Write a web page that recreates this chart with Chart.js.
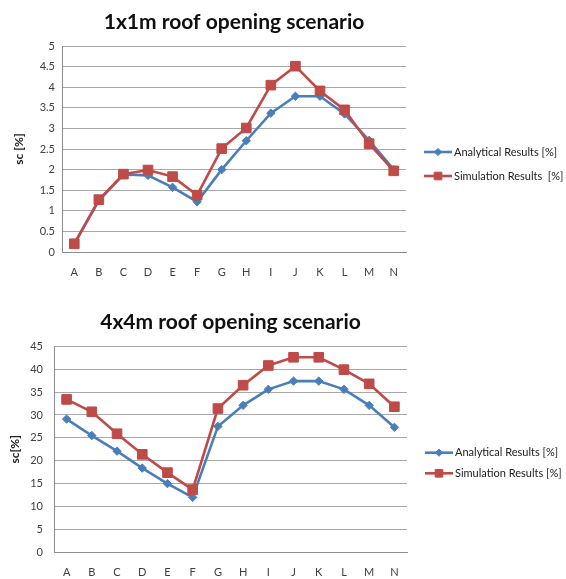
<!DOCTYPE html>
<html>
<head>
<meta charset="utf-8">
<script src="https://cdn.jsdelivr.net/npm/chart.js@4/dist/chart.umd.min.js"></script>
<style>
  html, body { margin: 0; padding: 0; background: #fff; }
  #wrap { position: relative; width: 566px; height: 579px; }
  canvas { position: absolute; left: 0; }
</style>
</head>
<body>
<div id="wrap">
  <canvas id="small" width="566" height="290" style="top:0"></canvas>
  <canvas id="large" width="566" height="289" style="top:290px"></canvas>
</div>
<script>
// Positions along the roof section
const categories = ['A', 'B', 'C', 'D', 'E', 'F', 'G', 'H', 'I', 'J', 'K', 'L', 'M', 'N'];

// 1x1m roof opening
const analytical1x1 = [0.2, 1.25, 1.88, 1.86, 1.57, 1.22, 2.0, 2.7, 3.37, 3.78, 3.78, 3.35, 2.71, 2.0];
const simulation1x1 = [0.2, 1.27, 1.89, 1.99, 1.83, 1.38, 2.51, 3.01, 4.05, 4.51, 3.91, 3.45, 2.63, 1.97];

// 4x4m roof opening
const analytical4x4 = [29.1, 25.5, 22.1, 18.4, 15.0, 12.0, 27.5, 32.1, 35.6, 37.4, 37.4, 35.6, 32.1, 27.3];
const simulation4x4 = [33.4, 30.7, 25.9, 21.4, 17.4, 13.7, 31.4, 36.5, 40.8, 42.6, 42.6, 39.9, 36.8, 31.8];

const BLUE = '#4a7ebb';
const RED = '#be4b48';

Chart.defaults.font.family = 'Lato, "Open Sans", sans-serif';
Chart.defaults.color = '#404040';
Chart.defaults.animation = false;

// Legend with a short line segment and the series marker, drawn at the right side
const lineLegend = {
  id: 'lineLegend',
  afterDraw(chart, args, opts) {
    const ctx = chart.ctx;
    ctx.save();
    chart.data.datasets.forEach((ds, i) => {
      const y = opts.rows[i];
      const x0 = opts.x, x1 = opts.x + opts.len;
      ctx.strokeStyle = ds.borderColor;
      ctx.lineWidth = ds.borderWidth;
      ctx.beginPath();
      ctx.moveTo(x0, y);
      ctx.lineTo(x1, y);
      ctx.stroke();
      ctx.fillStyle = ds.pointBackgroundColor;
      ctx.strokeStyle = ds.pointBorderColor;
      ctx.lineWidth = 1;
      Chart.helpers.drawPoint(ctx, {
        pointStyle: ds.pointStyle,
        radius: ds.legendMarkerRadius,
        borderWidth: 1,
        rotation: 0
      }, (x0 + x1) / 2, y);
      ctx.fillStyle = '#202020';
      ctx.font = opts.font;
      ctx.textBaseline = 'middle';
      ctx.textAlign = 'left';
      ctx.fillText(ds.label, x1 + opts.gap, y);
    });
    ctx.restore();
  }
};

// Tick text without trailing zeros: 0, 0.5, 1, 1.5 ...
const plainTick = (v) => String(Math.round(v * 100) / 100);

function makeChart(id, cfg) {
  return new Chart(document.getElementById(id), {
    type: 'line',
    data: {
      labels: categories,
      datasets: [
        {
          label: 'Analytical Results [%]',
          data: cfg.analytical,
          borderColor: BLUE,
          backgroundColor: BLUE,
          pointBackgroundColor: BLUE,
          pointBorderColor: BLUE,
          borderWidth: 2.6,
          pointStyle: 'rectRot',
          pointRadius: 4.2,
          pointBorderWidth: 1,
          legendMarkerRadius: 3.6,
          tension: 0,
          order: 1
        },
        {
          label: cfg.simLabel,
          data: cfg.simulation,
          borderColor: RED,
          backgroundColor: RED,
          pointBackgroundColor: RED,
          pointBorderColor: RED,
          borderWidth: 2.6,
          pointStyle: 'rect',
          pointRadius: 6.8,
          pointBorderWidth: 1,
          legendMarkerRadius: 5.4,
          tension: 0,
          order: 0
        }
      ]
    },
    options: {
      responsive: false,
      devicePixelRatio: 1,
      layout: { padding: { left: 0, right: cfg.rightPad, top: 0, bottom: 0 } },
      plugins: {
        legend: { display: false },
        tooltip: { enabled: false },
        title: {
          display: true,
          text: cfg.title,
          fullSize: false,
          color: '#101010',
          font: { size: 21, weight: 'bold' },
          padding: { top: cfg.titleTop, bottom: cfg.titleBottom }
        },
        lineLegend: {
          x: cfg.legendX,
          len: 28,
          gap: 2,
          rows: cfg.legendRows,
          font: '11px Lato, "Open Sans", sans-serif'
        }
      },
      scales: {
        x: {
          offset: true,
          grid: { display: false, drawTicks: false },
          border: { display: true, color: '#8c8c8c', width: 1 },
          ticks: { padding: 14, font: { size: 11 }, color: '#404040', autoSkip: false, maxRotation: 0 },
          afterFit(scale) { scale.height = cfg.xHeight; }
        },
        y: {
          min: 0,
          max: cfg.max,
          ticks: { stepSize: cfg.step, padding: cfg.tickPad, font: { size: 11 }, color: '#404040', callback: plainTick },
          grid: { color: '#a8a8a8', lineWidth: 1, drawTicks: false },
          border: { display: true, color: '#8c8c8c', width: 1 },
          title: {
            display: true,
            text: cfg.yTitle,
            color: '#202020',
            font: { size: 12, weight: 'bold' },
            padding: { top: cfg.yTitlePad, bottom: 0 }
          },
          afterFit(scale) { scale.width = cfg.yWidth; }
        }
      }
    },
    plugins: [lineLegend]
  });
}

makeChart('small', {
  title: '1x1m roof opening scenario',
  analytical: analytical1x1,
  simulation: simulation1x1,
  simLabel: 'Simulation Results  [%]',
  max: 5, step: 0.5,
  yTitle: 'sc [%]',
  yTitlePad: 12,
  yWidth: 62,
  tickPad: 7,
  xHeight: 38,
  rightPad: 160,
  titleTop: 9.4,
  titleBottom: 11.4,
  legendX: 424,
  legendRows: [152, 176]
});

makeChart('large', {
  title: '4x4m roof opening scenario',
  analytical: analytical4x4,
  simulation: simulation4x4,
  simLabel: 'Simulation Results [%]',
  max: 45, step: 5,
  yTitle: 'sc[%]',
  yTitlePad: 8,
  yWidth: 54,
  tickPad: 11,
  xHeight: 26.7,
  rightPad: 159,
  titleTop: 19.7,
  titleBottom: 11.4,
  legendX: 425,
  legendRows: [162.7, 183.3]
});
</script>
</body>
</html>
